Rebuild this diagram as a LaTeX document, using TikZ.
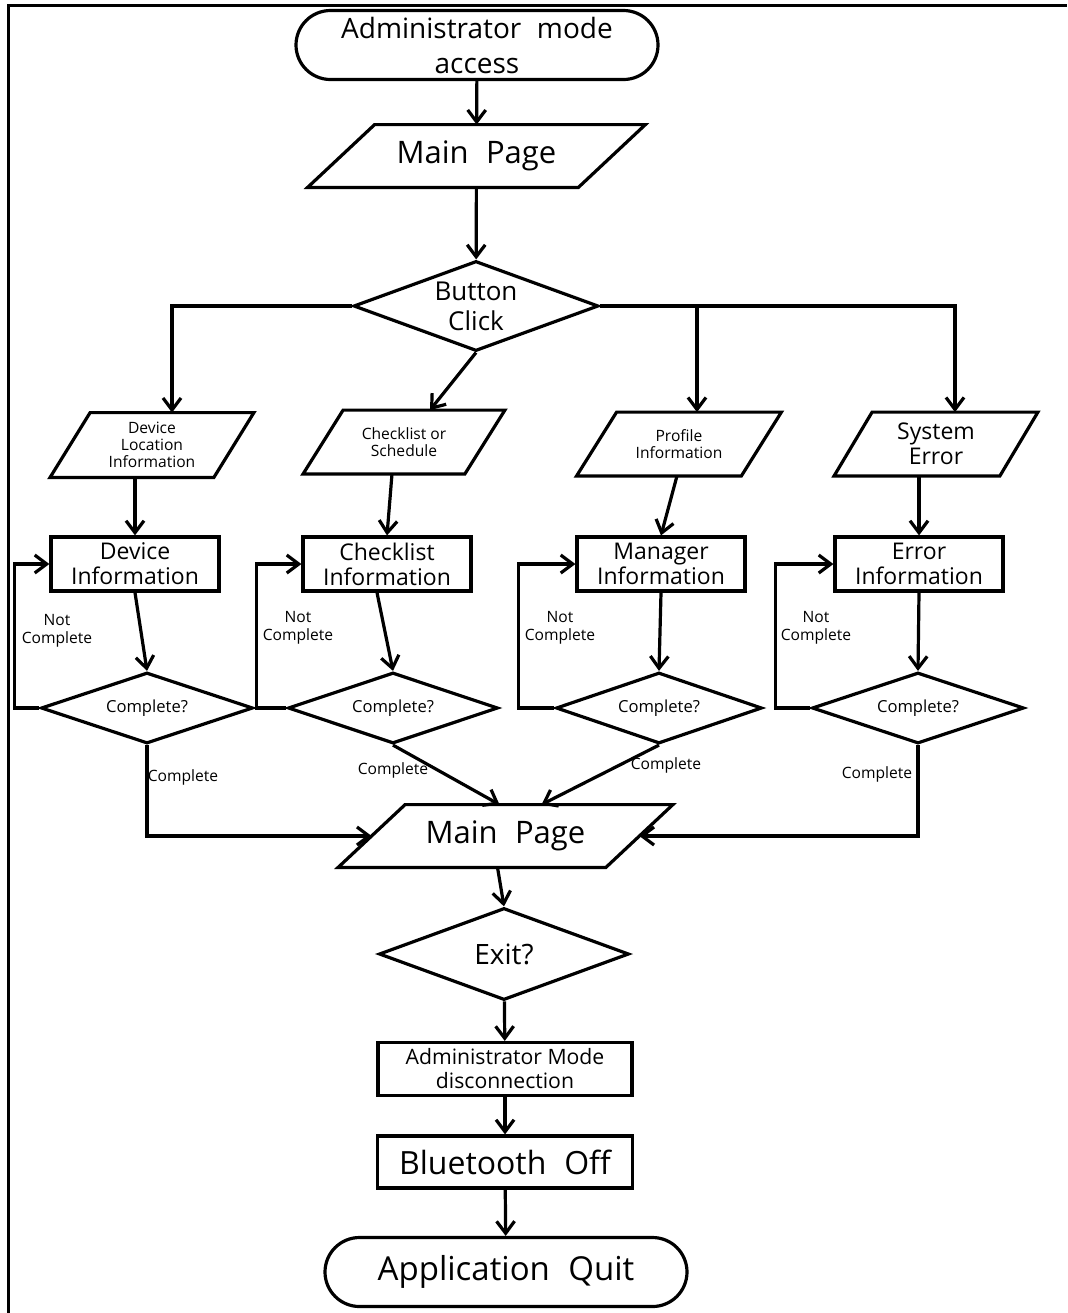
\documentclass[tikz,border=0pt]{standalone}
\usepackage{fontspec}
\setmainfont{Open Sans}
\usetikzlibrary{shapes.geometric,shapes.misc,arrows.meta}
\tikzset{
  flow/.style={draw=black,line width=1.6pt,-{Straight Barb[length=6pt,width=9pt]}},
  frame line/.style={draw=black,line width=1.5pt},
  outline/.style={draw=black,line width=1.6pt,line join=miter},
  terminal/.style={rounded rectangle,draw,line width=1.6pt,align=center,
    minimum width=181pt,minimum height=34.5pt,inner sep=0pt},
  io/.style={rectangle,align=center,inner sep=0pt,minimum height=31pt},
  col io/.style={io,minimum width=81.5pt,minimum height=31.5pt},
  process/.style={rectangle,draw,line width=1.6pt,align=center,inner sep=0pt,
    minimum width=84pt,minimum height=27pt},
  decision/.style={diamond,draw,line width=1.6pt,align=center,inner sep=0pt,
    aspect=3,minimum width=105pt,minimum height=35.5pt},
  note/.style={align=center,inner sep=0pt,font=\fontsize{7.8}{9}\selectfont},
  big/.style={font=\fontsize{15.5}{18}\selectfont},
  mid/.style={font=\fontsize{11.5}{12.5}\selectfont},
  small/.style={font=\fontsize{7.8}{8.6}\selectfont}
}

\begin{document}
\begin{tikzpicture}[x=0.5pt,y=-0.5pt]
  \useasboundingbox (0,0) rectangle (1067,1313);
  \draw[frame line] (8,1313) -- (8,5) -- (1067,5);

  % top part
  \node[terminal,font=\fontsize{14}{17.5}\selectfont] (start) at (477,45) {Administrator\hspace{0.3em} mode\\access};
  \node[io,big,minimum width=135pt] (main1) at (476.5,156) {Main\hspace{0.3em} Page};
  \node[decision,font=\fontsize{13}{15}\selectfont,aspect=2.7,minimum width=122.5pt,minimum height=45pt] (button) at (476,306) {Button\\Click};

  % input columns
  \node[col io,small,minimum height=32pt] (dloc) at (152,445) {Device\\Location\\Information};
  \node[col io,small,minimum width=80.5pt] (sched) at (404,442) {Checklist or\\Schedule};
  \node[col io,small,minimum width=82pt] (prof) at (679,444) {Profile\\Information};
  \node[col io,mid,minimum width=82.5pt] (serr) at (936,444) {System\\Error};

  \node[process,mid] (devinfo) at (135,564) {Device\\Information};
  \node[process,mid] (chkinfo) at (387,564) {Checklist\\Information};
  \node[process,mid] (mgrinfo) at (661,564) {Manager\\Information};
  \node[process,mid] (errinfo) at (919,564) {Error\\Information};

  \node[decision,font=\fontsize{8.3}{10}\selectfont,minimum width=106pt] (cmp1) at (147,708) {Complete?};
  \node[decision,font=\fontsize{8.3}{10}\selectfont] (cmp2) at (393,708) {Complete?};
  \node[decision,font=\fontsize{8.3}{10}\selectfont,minimum width=103pt] (cmp3) at (659,708) {Complete?};
  \node[decision,font=\fontsize{8.3}{10}\selectfont,minimum width=106pt] (cmp4) at (918,708) {Complete?};

  % bottom part
  \node[io,big,minimum width=133.5pt] (main2) at (505.5,836) {Main\hspace{0.3em} Page};
  \node[decision,font=\fontsize{14}{16}\selectfont,aspect=2.7,minimum width=125pt,minimum height=46pt] (exit) at (504,954) {Exit?};
  \node[process,font=\fontsize{10.6}{12}\selectfont,minimum width=127pt,minimum height=26.5pt] (disc) at (505,1069) {Administrator Mode\\disconnection};
  \node[process,font=\fontsize{16}{18}\selectfont,minimum width=127.5pt,minimum height=26pt] (bt) at (505,1162) {Bluetooth\hspace{0.3em} Off};
  \node[terminal,font=\fontsize{16.5}{18}\selectfont] (quit) at (506,1272) {Application\hspace{0.3em} Quit};

  % slanted outlines of the io boxes
  \foreach \n/\s in {main1/16.75,main2/16.75,dloc/10,sched/10,prof/10,serr/9.5}
    \draw[outline] ([xshift=\s pt]\n.north west) -- ([xshift=\s pt]\n.north east)
      -- ([xshift=-\s pt]\n.south east) -- ([xshift=-\s pt]\n.south west) -- cycle;

  % connectors
  \draw[flow] (start) -- (main1);
  \draw[flow] (main1) -- (button);
  \draw[flow] (button.west) -| ([xshift=10pt]dloc.north);
  \draw[flow] (button.south) -- ([xshift=13pt]sched.north);
  \draw[flow] (button.east) -| ([xshift=9.5pt]serr.north);
  \draw[flow] ([xshift=9pt]prof.north |- button.east) -- ([xshift=9pt]prof.north);

  \draw[flow] (devinfo.north |- dloc.south) -- (devinfo.north);
  \draw[flow] ([xshift=-6pt]sched.south) -- (chkinfo.north);
  \draw[flow] ([xshift=-1pt]prof.south) -- (mgrinfo.north);
  \draw[flow] (errinfo.north |- serr.south) -- (errinfo.north);

  \draw[flow] (devinfo.south) -- (cmp1.north);
  \draw[flow] ([xshift=-5pt]chkinfo.south) -- (cmp2.north);
  \draw[flow] (mgrinfo.south) -- (cmp3.north);
  \draw[flow] (errinfo.south) -- (cmp4.north);

  \draw[flow] (cmp1.west) -- ++(-25,0) |- (devinfo.west);
  \draw[flow] (cmp2.west) -- ++(-30,0) |- (chkinfo.west);
  \draw[flow] (cmp3.west) -- ++(-36,0) |- (mgrinfo.west);
  \draw[flow] (cmp4.west) -- ++(-35,0) |- (errinfo.west);

  \draw[flow] (cmp1.south) |- (main2.west);
  \draw[flow] (cmp2.south) -- ([xshift=-3pt]main2.north);
  \draw[flow] (cmp3.south) -- ([xshift=18pt]main2.north);
  \draw[flow] (cmp4.south) |- (main2.east);

  \draw[flow] ([xshift=-4pt]main2.south) -- (exit.north);
  \draw[flow] (exit) -- (disc);
  \draw[flow] (disc) -- (bt);
  \draw[flow] (bt) -- (quit);

  % labels
  \node[note] (nc1) at (57,631) {Not\\Complete};
  \node[note] (nc2) at (298,628) {Not\\Complete};
  \node[note] (nc3) at (560,628) {Not\\Complete};
  \node[note] (nc4) at (816,628) {Not\\Complete};
  \node[note] (ok1) at (183,777) {Complete};
  \node[note] (ok2) at (393,770) {Complete};
  \node[note] (ok3) at (666,765) {Complete};
  \node[note] (ok4) at (877,774) {Complete};
\end{tikzpicture}
\end{document}
